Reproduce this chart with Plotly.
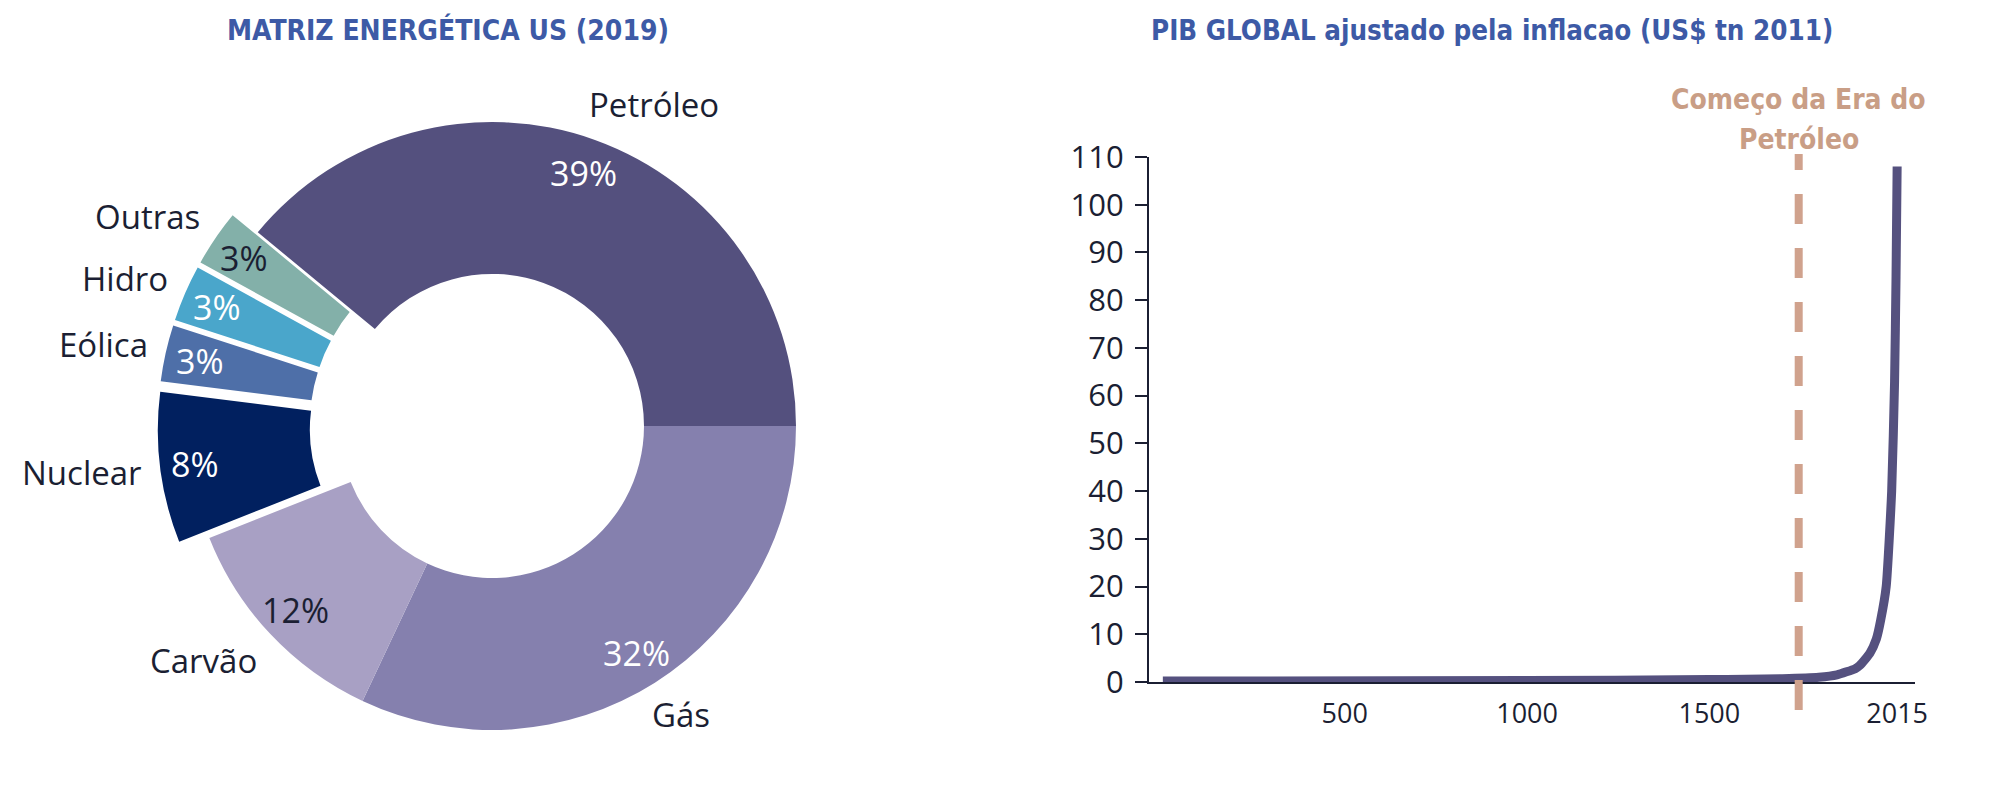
import math
import plotly.graph_objects as go

# ---------------- data ----------------
pie_labels = ["Petróleo", "Outras", "Hidro", "Eólica", "Nuclear", "Carvão", "Gás"]
pie_values = [39, 3, 3, 3, 8, 12, 32]
pie_colors = ["#54507e", "#83b0a9", "#4aa6cb", "#4e6fa8", "#01205f", "#a8a0c4", "#8580ae"]
pie_text_colors = ["white", "#1b1f33", "white", "white", "white", "#1b1f33", "white"]
pie_pull = [0, 0.1, 0.1, 0.1, 0.1, 0, 0]

gdp_years = [1, 1000, 1500, 1600, 1700, 1800, 1850, 1900, 1913, 1940, 1958, 1970,
             1985, 2000, 2008, 2012, 2015]
gdp_values = [0.2, 0.3, 0.5, 0.6, 0.7, 1.0, 1.5, 2.8, 3.5, 6, 9, 13,
              20, 40, 63, 85, 108]
oil_era_year = 1745
x_tickvals = [500, 1000, 1500, 2015]
y_tickvals = list(range(0, 111, 10))

title_left = "MATRIZ ENERGÉTICA US (2019)"
title_right = "PIB GLOBAL ajustado pela inflacao (US$ tn 2011)"
oil_note_1 = "Começo da Era do"
oil_note_2 = "Petróleo"

# ---------------- layout helpers ----------------
W, H = 2006, 812
OFF = 8  # page body margin added by the browser


def fx(x):
    return (x - OFF) / W


def fy(y):
    return 1 - (y - OFF) / H


TITLE_FONT = "DejaVu Sans Condensed, Liberation Sans Narrow, Roboto, sans-serif"
BODY_FONT = "Open Sans, Lato, sans-serif"
DARK = "#1b1f33"

PIE_CX, PIE_CY, PIE_R = 492, 426, 304     # on-screen pixel centre / radius of the donut
MAX_PULL = max(pie_pull)
half = PIE_R * (1 + MAX_PULL)
pie_domain = dict(x=[fx(PIE_CX - half), fx(PIE_CX + half)],
                  y=[fy(PIE_CY + half), fy(PIE_CY - half)])

fig = go.Figure()

# donut (reversed order drawn clockwise from 3 o'clock == original order counterclockwise)
fig.add_trace(go.Pie(
    labels=pie_labels[::-1], values=pie_values[::-1], sort=False,
    direction="clockwise", rotation=90, hole=0.5,
    pull=pie_pull[::-1],
    marker=dict(colors=pie_colors[::-1], line=dict(width=0)),
    textinfo="none",
    domain=pie_domain, showlegend=False, hoverinfo="label+percent",
))

# slice labels: percentages near the outer rim, names just outside (derived from values)
total = sum(pie_values)
cum = 0.0
for lab, v, p, tc in zip(pie_labels, pie_values, pie_pull, pie_text_colors):
    mid = (cum + v / 2) / total * 2 * math.pi
    cum += v
    c, s = math.cos(mid), math.sin(mid)
    r_pct = PIE_R * (0.885 + p)
    fig.add_annotation(text=f"{v}%", xref="paper", yref="paper",
                       x=fx(PIE_CX + r_pct * c), y=fy(PIE_CY - r_pct * s),
                       xanchor="center", yanchor="middle", showarrow=False,
                       font=dict(family=BODY_FONT, size=34, color=tc))
    r_lab = PIE_R * (1 + p) + 16
    if c > 0.15:
        xa, xs = "left", -13
    elif c < -0.15:
        xa, xs = "right", 0
    else:
        xa, xs = "center", 0
    fig.add_annotation(text=lab, xref="paper", yref="paper",
                       x=fx(PIE_CX + r_lab * c), y=fy(PIE_CY - r_lab * s),
                       xanchor=xa, yanchor="middle", xshift=xs, yshift=s * 22,
                       showarrow=False,
                       font=dict(family=BODY_FONT, size=33, color=DARK))

# GDP line
fig.add_trace(go.Scatter(
    x=gdp_years, y=gdp_values, mode="lines",
    line=dict(color="#55517f", width=9, shape="spline", smoothing=0.5),
    showlegend=False, hoverinfo="x+y", xaxis="x", yaxis="y",
))

fig.add_shape(type="line", xref="x", yref="paper",
              x0=oil_era_year, x1=oil_era_year, y0=fy(710), y1=fy(154),
              line=dict(color="#d0a28d", width=8, dash="30px,24px"))

for txt, yy in ((oil_note_1, 100), (oil_note_2, 139)):
    fig.add_annotation(text=txt, xref="x", yref="paper", x=oil_era_year, y=fy(yy),
                       yanchor="middle", xanchor="center", showarrow=False,
                       font=dict(family=TITLE_FONT, size=28, color="#c99e86", weight="bold"))

fig.add_annotation(text=title_left, xref="paper", yref="paper", x=fx(448), y=fy(30),
                   xanchor="center", yanchor="middle", showarrow=False,
                   font=dict(family=TITLE_FONT, size=28, color="#3d5aa6", weight="bold"))
fig.add_annotation(text=title_right, xref="paper", yref="paper", x=fx(1492), y=fy(30),
                   xanchor="center", yanchor="middle", showarrow=False,
                   font=dict(family=TITLE_FONT, size=27.5, color="#3d5aa6", weight="bold"))

fig.update_layout(
    width=W, height=H,
    margin=dict(l=0, r=0, t=0, b=0, autoexpand=False),
    paper_bgcolor="white", plot_bgcolor="white",
    xaxis=dict(domain=[fx(1149), fx(1915)], range=[-37, 2064],
               tickvals=x_tickvals, ticktext=[str(v) for v in x_tickvals],
               showgrid=False, zeroline=False, showline=True, linecolor=DARK, linewidth=2,
               ticks="", ticklabelstandoff=7, automargin=False,
               tickfont=dict(family=BODY_FONT, size=27, color=DARK)),
    yaxis=dict(domain=[fy(682), fy(157)], range=[0, 110],
               tickvals=y_tickvals, showgrid=False, zeroline=False,
               showline=True, linecolor=DARK, linewidth=2,
               ticks="outside", ticklen=12, tickwidth=2, tickcolor=DARK,
               ticklabelstandoff=5, automargin=False,
               tickfont=dict(family=BODY_FONT, size=31, color=DARK)),
)

fig.write_html("out.html")
